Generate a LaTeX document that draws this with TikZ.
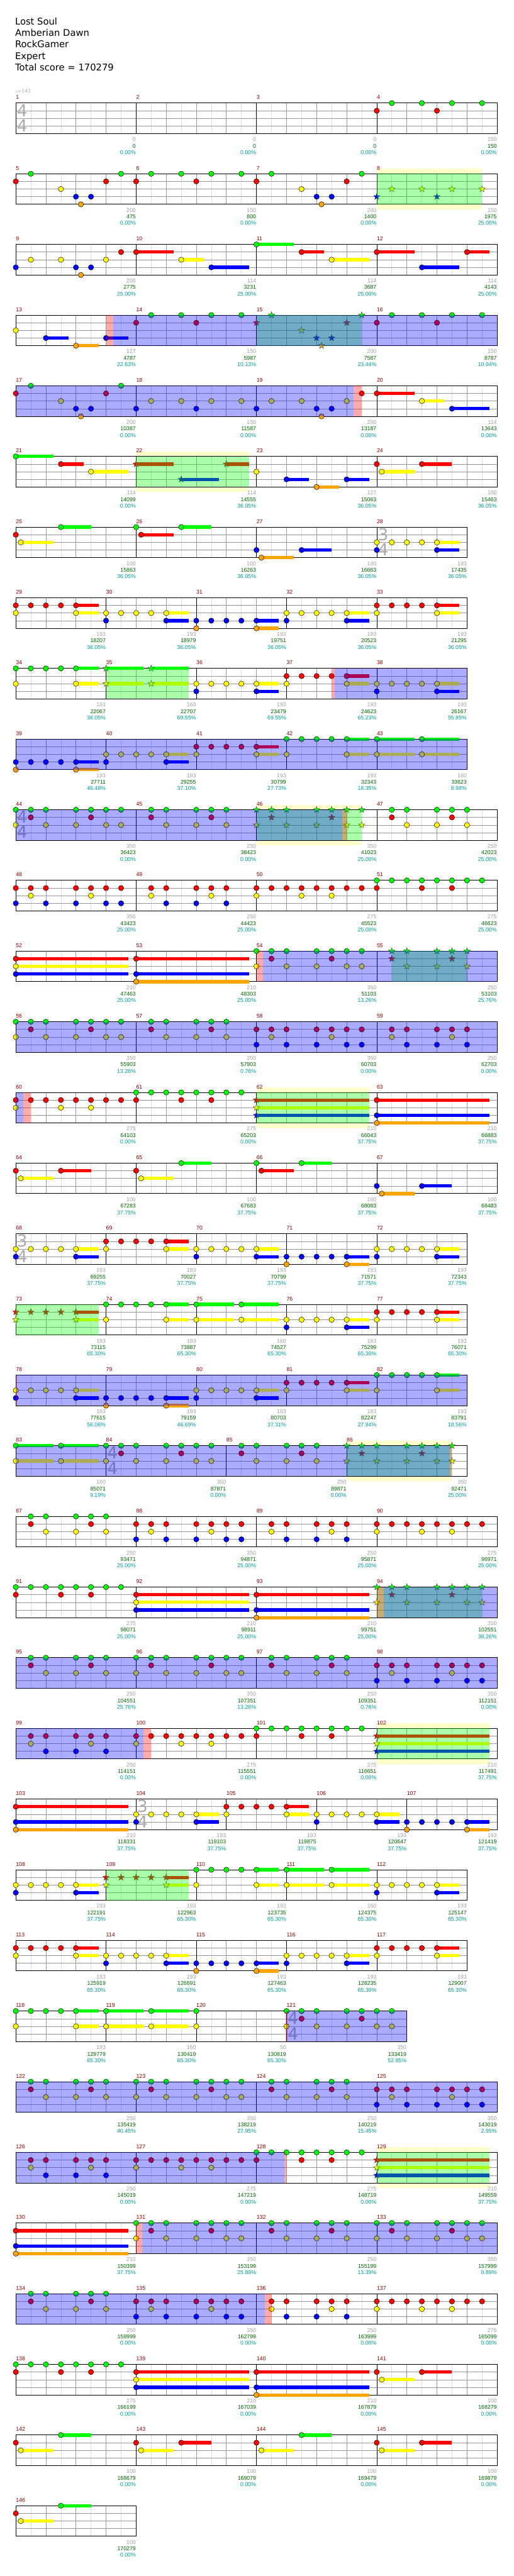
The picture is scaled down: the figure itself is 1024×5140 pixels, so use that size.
\documentclass[tikz,border=0pt]{standalone}
\usepackage{fontspec}
\setmainfont{DejaVu Sans}
\newfontfamily\smf{Liberation Sans}
\newfontfamily\hdf{DejaVu Sans}
\definecolor{c0}{HTML}{00FF00}
\definecolor{c1}{HTML}{FF0000}
\definecolor{c2}{HTML}{FFFF00}
\definecolor{c3}{HTML}{0000FF}
\definecolor{c4}{HTML}{FFA500}
\definecolor{yb}{HTML}{FFFFCC}
\definecolor{lgr}{HTML}{DDDDDD}
\definecolor{dgr}{HTML}{999999}
\definecolor{mnc}{HTML}{8B0000}
\definecolor{sgray}{HTML}{A0A0A0}
\definecolor{sgreen}{HTML}{006400}
\definecolor{steal}{HTML}{009999}
\definecolor{tsc}{HTML}{AAAAAA}
\tikzset{
  smalltext/.style={font=\smf\fontsize{11}{11}\selectfont, inner sep=0pt},
  hd/.style={font=\hdf\fontsize{18.5}{18.5}\selectfont, inner sep=0pt, anchor=base west},
  tsg/.style={font=\hdf\fontsize{33}{33}\selectfont, text=tsc, inner sep=0pt, anchor=center},
  lgrid/.style={draw=lgr, line width=0.8pt},
  dgrid/.style={draw=dgr, line width=0.8pt},
}
\newcount\nc
\newcommand\rowgo[1]{\begin{scope}[shift={(31.5,{-205.7-141*(#1-1)})}]}
\newcommand\staffrow[2]{%
  \fill[white] (0,0) rectangle ({30*#1},-61);
  \pgfmathtruncatemacro\wm{#1-1}%
  \foreach \i in {1,3,...,\wm} \draw[lgrid] ({30*\i},0) -- ({30*\i},-61);
  \foreach \i in {2,4,...,\wm} \draw[dgrid] ({30*\i},0) -- ({30*\i},-61);
  \foreach \j in {1,2,3} \draw[dgrid] (0,{-15.25*\j}) -- ({30*#1},{-15.25*\j});
  \foreach \m in {#2} \draw[black,line width=0.8pt] ({30*\m},0) -- ({30*\m},-61);
  \draw[black,line width=1.2pt] (0,0) rectangle ({30*#1},-61);
}
\newcommand\tsig[3]{\global\advance\nc by 1
  \node[tsg] (tsa\the\nc) at ({30*#1+12.8},-14.5) {#2};
  \node[tsg] (tsb\the\nc) at ({30*#1+12.8},-45) {#3};}
\newcommand\noteA[2]{\edef\tmpc{c#2}%
  \filldraw[fill=\tmpc,draw=black,line width=0.6pt] ({30*#1},{-15.25*#2}) circle (5.3);}
\newcommand\noteB[3]{\edef\tmpc{c#2}%
  \fill[\tmpc] ({30*#1},{-15.25*#2-3.3}) rectangle ({30*#3},{-15.25*#2+3.3});
  \noteA{#1}{#2}}
\newcommand\starA[2]{\edef\tmpc{c#2}%
  \filldraw[fill=\tmpc,draw=black!75,line width=0.5pt] ({30*#1},{-15.25*#2}) +(90:6.8) -- +(126:2.8) -- +(162:6.8) -- +(198:2.8) -- +(234:6.8) -- +(270:2.8) -- +(306:6.8) -- +(342:2.8) -- +(18:6.8) -- +(54:2.8) -- cycle;}
\newcommand\starB[3]{\edef\tmpc{c#2}%
  \fill[\tmpc] ({30*#1},{-15.25*#2-3.3}) rectangle ({30*#3},{-15.25*#2+3.3});
  \starA{#1}{#2}}
\newcommand\lnA[1]{\foreach \xa/\ya in {#1}{\noteA{\xa}{\ya}}}
\newcommand\lnB[1]{\foreach \xa/\ya/\za in {#1}{\noteB{\xa}{\ya}{\za}}}
\newcommand\lsA[1]{\foreach \xa/\ya in {#1}{\starA{\xa}{\ya}}}
\newcommand\lsB[1]{\foreach \xa/\ya/\za in {#1}{\starB{\xa}{\ya}{\za}}}
\newcommand\spz[2]{\fill[blue,opacity=0.33] ({30*#1},0) rectangle ({30*#2},-61);}
\newcommand\gpz[2]{\fill[green,opacity=0.33] ({30*#1},0) rectangle ({30*#2},-61);}
\newcommand\pkz[2]{\fill[red,opacity=0.33] ({30*#1},0) rectangle ({30*#2},-61);}
\newcommand\ybz[2]{\fill[yb] ({30*#1},10) rectangle ({30*#2},-71);}
\newcommand\lmn[1]{\foreach \xa/\ya in {#1}{\node[smalltext,text=mnc,anchor=base west] (m\ya) at ({30*\xa},7.5) {\ya};}}
\newcommand\scor[4]{\global\advance\nc by 1
  \node[smalltext,text=sgray,anchor=base east] (sa\the\nc) at ({30*#1-0.5},-76.5) {#2};
  \node[smalltext,text=sgreen,anchor=base east] (sb\the\nc) at ({30*#1-0.5},-89.5) {#3};
  \node[smalltext,text=steal,anchor=base east] (sc\the\nc) at ({30*#1-0.5},-102.5) {#4\%};}
\newcommand\lsc[1]{\foreach \xa/\ya/\za/\wa in {#1}{\scor{\xa}{\ya}{\za}{\wa}}}
\newcommand\patA{\lnA{1/0,1/1,2/0,2/2,4/0,4/2,5/0,5/1,6/0,6/2,8/0,8/2,9/0,9/1,10/0,10/2,12/0,12/2,13/0,13/1,14/0,14/2,15/0,15/2,17/0,17/1,18/0,18/2,20/0,20/2,21/0,21/1,22/0,22/2,24/1,24/3,25/1,25/2,26/1,26/3,28/1,28/3,29/1,29/2,30/1,30/3,31/1,31/3}}
\newcommand\patB{\lnA{1/1,1/2,2/1,2/3,4/1,4/3,5/1,5/2,6/1,6/3,8/1,8/2,9/1,10/1,11/1,11/2,12/1,13/1,13/2,14/1,15/1,16/0,16/1,17/0,18/0,19/0,19/1,20/0,21/0,21/1,22/0,23/0}}
\newcommand\patC{\lnA{1/0,1/1,2/0,2/2,4/0,4/2,5/0,5/1,6/0,6/2,8/1,8/3,9/1,9/2,10/1,10/3,12/1,12/3,13/1,13/2,14/1,14/3,15/1,15/3,17/1,17/2,18/1,18/3,20/1,20/3,21/1,21/2,22/1,22/3,24/1,24/2,25/1,26/1,27/1,27/2,28/1,29/1,29/2,30/1,31/1}}
\begin{document}
\begin{tikzpicture}[x=1pt,y=1pt]
\useasboundingbox (0,0) rectangle (1024,-5140);
\node[hd] (h1) at (30,-49.3) {Lost Soul};
\node[hd] (h2) at (30,-72.3) {Amberian Dawn};
\node[hd] (h3) at (30,-95.3) {RockGamer};
\node[hd] (h4) at (30,-118.3) {Expert};
\node[hd] (h5) at (30,-141.3) {Total score = 170279};
\node[anchor=base west,text=tsc,font=\hdf\fontsize{9.5}{9.5}\selectfont,inner sep=0pt] (tempo) at (30.5,-185) {♩=143};
% row 1
\rowgo{1}\staffrow{32}{8,16,24}\tsig{0}{4}{4}
\lnA{24/1,25/0,27/0,28/1,29/0,31/0}
\lmn{0/1,8/2,16/3,24/4}
\lsc{8/0/0/0.00,16/0/0/0.00,24/0/0/0.00,32/150/150/0.00}
\end{scope}
% row 2
\rowgo{2}\ybz{24}{31}\staffrow{32}{8,16,24}
\lnA{0/1,1/0,3/2,4/3,4.33/4,5/3,6/1,7/0,8/1,9/0,11/0,12/1,13/0,15/0,16/1,17/0,19/2,20/3,20.33/4,21/3,22/1,23/0}
\lsA{24/3,25/2,27/2,28/3,29/2,31/2}
\gpz{24}{31}
\lmn{0/5,8/6,16/7,24/8}
\lsc{8/200/475/0.00,16/150/800/0.00,24/200/1400/0.00,32/150/1975/25.00}
\end{scope}
% row 3
\rowgo{3}\staffrow{32}{8,16,24}
\lnA{0/3,1/2,3/2,4/3,4.33/4,5/3,6/2,7/1}
\lnB{8/1/10.5,11/2/12.5,13/3/15.5,16/0/18.5,19/1/20.5,21/2/23.5,24/1/26.5,27/3/29.5,30/1/31.5}
\lmn{0/9,8/10,16/11,24/12}
\lsc{8/200/2775/25.00,16/114/3231/25.00,24/114/3687/25.00,32/114/4143/25.00}
\end{scope}
% row 4
\rowgo{4}\staffrow{32}{8,16,24}
\lnA{0/2,8/1,9/0,11/0,12/1,13/0,15/0,24/1,25/0,27/0,28/1,29/0,31/0}
\lnB{2/3/3.5,4/4/5.5,6/3/7.5}
\lsA{16/1,17/0,19/2,20/3,20.33/4,21/3,22/1,23/0}
\gpz{16}{23}\pkz{6}{6.48}\spz{6.48}{32}
\lmn{0/13,8/14,16/15,24/16}
\lsc{8/127/4787/22.63,16/150/5987/10.13,24/200/7587/23.44,32/150/8787/10.94}
\end{scope}
% row 5
\rowgo{5}\staffrow{32}{8,16,24}
\lnA{0/1,1/0,3/2,4/3,4.33/4,5/3,6/1,7/0,8/3,9/2,11/2,12/3,13/2,15/2,16/3,17/2,19/2,20/3,20.33/4,21/3,22/2,23/1}
\lnB{24/1/26.5,27/2/28.5,29/3/31.5}
\spz{0}{22.46}\pkz{22.46}{23}
\lmn{0/17,8/18,16/19,24/20}
\lsc{8/200/10387/0.00,16/150/11587/0.00,24/200/13187/0.00,32/114/13643/0.00}
\end{scope}
% row 6
\rowgo{6}\ybz{8}{15.5}\staffrow{32}{8,16,24}
\lnA{16/2,24/1}
\lnB{0/0/2.5,3/1/4.5,5/2/7.5,18/3/19.5,20/4/21.5,22/3/23.5,24.33/2/26.5,27/1/29}
\lsB{8/1/10.5,11/3/13.5,14/1/15.5}
\gpz{8}{15.5}
\lmn{0/21,8/22,16/23,24/24}
\lsc{8/114/14099/0.00,16/114/14555/36.05,24/127/15063/36.05,32/100/15463/36.05}
\end{scope}
% row 7
\rowgo{7}\staffrow{30}{8,16,24}\tsig{24}{3}{4}
\lnA{0/1,8/0,16/3,24/2,24/3,25/2,26/2,27/2}
\lnB{0.33/2/2.5,3/0/5,8.33/1/10.5,11/0/13,16.33/4/18.5,19/3/21,28/2/29.5,28/3/29.5}
\lmn{0/25,8/26,16/27,24/28}
\lsc{8/100/15863/36.05,16/100/16263/36.05,24/100/16663/36.05,30/193/17435/36.05}
\end{scope}
% row 8
\rowgo{8}\staffrow{30}{6,12,18,24}
\lnA{0/1,0/2,1/1,2/1,3/1,6/2,6/3,7/2,8/2,9/2,12/3,12/4,13/3,14/3,15/3,18/2,18/3,19/2,20/2,21/2,24/1,24/2,25/1,26/1,27/1}
\lnB{4/1/5.5,4/2/5.5,10/2/11.5,10/3/11.5,16/3/17.5,16/4/17.5,22/2/23.5,22/3/23.5,28/1/29.5,28/2/29.5}
\lmn{0/29,6/30,12/31,18/32,24/33}
\lsc{6/193/18207/36.05,12/193/18979/36.05,18/193/19751/36.05,24/193/20523/36.05,30/193/21295/36.05}
\end{scope}
% row 9
\rowgo{9}\staffrow{30}{6,12,18,24}
\lnA{0/0,0/2,1/0,2/0,3/0,12/2,12/3,13/2,14/2,15/2,18/1,18/2,19/1,20/1,21/1,24/2,24/3,25/2,26/2,27/2}
\lnB{4/0/5.5,4/2/5.5,16/2/17.5,16/3/17.5,22/1/23.5,22/2/23.5,28/2/29.5,28/3/29.5}
\lsB{6/0/8.5,6/2/8.5,9/0/11.5,9/2/11.5}
\gpz{6}{11.5}\pkz{21}{21.2}\spz{21.2}{30}
\lmn{0/34,6/35,12/36,18/37,24/38}
\lsc{6/193/22067/36.05,12/160/22707/69.55,18/193/23479/69.55,24/193/24623/65.23,30/193/26167/55.85}
\end{scope}
% row 10
\rowgo{10}\staffrow{30}{6,12,18,24}
\lnA{0/3,0/4,1/3,2/3,3/3,6/2,6/3,7/2,8/2,9/2,12/1,12/2,13/1,14/1,15/1,18/0,18/2,19/0,20/0,21/0}
\lnB{4/3/5.5,4/4/5.5,10/2/11.5,10/3/11.5,16/1/17.5,16/2/17.5,22/0/23.5,22/2/23.5,24/0/26.5,24/2/26.5,27/0/29.5,27/2/29.5}
\spz{0}{30}
\lmn{0/39,6/40,12/41,18/42,24/43}
\lsc{6/193/27711/46.48,12/193/29255/37.10,18/193/30799/27.73,24/193/32343/18.35,30/160/33623/8.98}
\end{scope}
% row 11
\rowgo{11}\ybz{16}{23}\staffrow{32}{8,16,24}\tsig{0}{4}{4}
\lnA{0/0,0/2,1/0,1/1,2/0,2/2,4/0,4/2,5/0,5/1,6/0,6/2,7/0,7/2,9/0,9/1,10/0,10/2,12/0,12/2,13/0,13/1,14/0,14/2,25/0,25/1,26/0,26/2,28/0,28/2,29/0,29/1,30/0,30/2}
\lsA{16/0,16/2,17/0,17/1,18/0,18/2,20/0,20/2,21/0,21/1,22/0,22/2,23/0,23/2}
\gpz{16}{23}\spz{0}{21.7}\pkz{21.7}{22}
\lmn{0/44,8/45,16/46,24/47}
\lsc{8/350/36423/0.00,16/250/38423/0.00,24/350/41023/25.00,32/250/42023/25.00}
\end{scope}
% row 12
\rowgo{12}\staffrow{32}{8,16,24}
\lnA{0/1,0/3,1/1,1/2,2/1,2/3,4/1,4/3,5/1,5/2,6/1,6/3,7/1,7/3,9/1,9/2,10/1,10/3,12/1,12/3,13/1,13/2,14/1,14/3,16/1,16/2,17/1,18/1,19/1,19/2,20/1,21/1,21/2,22/1,23/1,24/0,24/1,25/0,26/0,27/0,27/1,28/0,29/0,29/1,30/0,31/0}
\lmn{0/48,8/49,16/50,24/51}
\lsc{8/350/43423/25.00,16/250/44423/25.00,24/275/45523/25.00,32/275/46623/25.00}
\end{scope}
% row 13
\rowgo{13}\staffrow{32}{8,16,24}
\lnB{0/1/7.5,0/2/7.5,0/3/7.5,8/1/15.5,8/3/15.5,8/4/15.5}
\lnA{16/0,16/2,17/0,17/1,18/0,18/2,20/0,20/2,21/0,21/1,22/0,22/2,23/0,23/2}
\lsA{25/0,25/1,26/0,26/2,28/0,28/2,29/0,29/1,30/0,30/2}
\gpz{25}{30}\pkz{16}{16.43}\spz{16.43}{32}
\lmn{0/52,8/53,16/54,24/55}
\lsc{8/210/47463/25.00,16/210/48303/25.00,24/350/51103/13.26,32/250/53103/25.76}
\end{scope}
% row 14
\rowgo{14}\staffrow{32}{8,16,24}
\lnA{0/0,0/2,1/0,1/1,2/0,2/2,4/0,4/2,5/0,5/1,6/0,6/2,7/0,7/2,9/0,9/1,10/0,10/2,12/0,12/2,13/0,13/1,14/0,14/2,16/1,16/3,17/1,17/2,18/1,18/3,20/1,20/3,21/1,21/2,22/1,22/3,23/1,23/3,25/1,25/2,26/1,26/3,28/1,28/3,29/1,29/2,30/1,30/3}
\spz{0}{32}
\lmn{0/56,8/57,16/58,24/59}
\lsc{8/350/55903/13.26,16/250/57903/0.76,24/350/60703/0.00,32/250/62703/0.00}
\end{scope}
% row 15
\rowgo{15}\ybz{16}{23.5}\staffrow{32}{8,16,24}
\lnA{0/1,0/2,1/1,2/1,3/1,3/2,4/1,5/1,5/2,6/1,7/1,8/0,8/1,9/0,10/0,11/0,11/1,12/0,13/0,13/1,14/0,15/0}
\lsB{16/1/23.5,16/2/23.5,16/3/23.5}
\lnB{24/1/31.5,24/3/31.5,24/4/31.5}
\gpz{16}{23.5}\spz{0}{0.5}\pkz{0.5}{1}
\lmn{0/60,8/61,16/62,24/63}
\lsc{8/275/64103/0.00,16/275/65203/0.00,24/210/66043/37.75,32/210/66883/37.75}
\end{scope}
% row 16
\rowgo{16}\staffrow{32}{8,16,24}
\lnA{0/1,8/1,16/0,24/3}
\lnB{0.33/2/2.5,3/1/5,8.33/2/10.5,11/0/13,16.33/1/18.5,19/0/21,24.33/4/26.5,27/3/29}
\lmn{0/64,8/65,16/66,24/67}
\lsc{8/100/67283/37.75,16/100/67683/37.75,24/100/68083/37.75,32/100/68483/37.75}
\end{scope}
% row 17
\rowgo{17}\staffrow{30}{6,12,18,24}\tsig{0}{3}{4}
\lnA{0/2,0/3,1/2,2/2,3/2,6/1,6/2,7/1,8/1,9/1,12/2,12/3,13/2,14/2,15/2,18/3,18/4,19/3,20/3,21/3,24/2,24/3,25/2,26/2,27/2}
\lnB{4/2/5.5,4/3/5.5,10/1/11.5,10/2/11.5,16/2/17.5,16/3/17.5,22/3/23.5,22/4/23.5,28/2/29.5,28/3/29.5}
\lmn{0/68,6/69,12/70,18/71,24/72}
\lsc{6/193/69255/37.75,12/193/70027/37.75,18/193/70799/37.75,24/193/71571/37.75,30/193/72343/37.75}
\end{scope}
% row 18
\rowgo{18}\staffrow{30}{6,12,18,24}
\lsA{0/1,0/2,1/1,2/1,3/1}
\lsB{4/1/5.5,4/2/5.5}
\lnA{6/0,6/2,7/0,8/0,9/0,18/2,18/3,19/2,20/2,21/2,24/1,24/2,25/1,26/1,27/1}
\lnB{10/0/11.5,10/2/11.5,12/0/14.5,12/2/14.5,15/0/17.5,15/2/17.5,22/2/23.5,22/3/23.5,28/1/29.5,28/2/29.5}
\gpz{0}{5.5}
\lmn{0/73,6/74,12/75,18/76,24/77}
\lsc{6/193/73115/65.30,12/193/73887/65.30,18/160/74527/65.30,24/193/75299/65.30,30/193/76071/65.30}
\end{scope}
% row 19
\rowgo{19}\staffrow{30}{6,12,18,24}
\lnA{0/2,0/3,1/2,2/2,3/2,6/3,6/4,7/3,8/3,9/3,12/2,12/3,13/2,14/2,15/2,18/1,18/2,19/1,20/1,21/1,24/0,24/2,25/0,26/0,27/0}
\lnB{4/2/5.5,4/3/5.5,10/3/11.5,10/4/11.5,16/2/17.5,16/3/17.5,22/1/23.5,22/2/23.5,28/0/29.5,28/2/29.5}
\spz{0}{30}\pkz{0}{0.1}
\lmn{0/78,6/79,12/80,18/81,24/82}
\lsc{6/193/77615/56.06,12/193/79159/46.69,18/193/80703/37.31,24/193/82247/27.94,30/193/83791/18.56}
\end{scope}
% row 20
\rowgo{20}\ybz{22}{29}\staffrow{30}{6,14,22}\tsig{6}{4}{4}
\lnB{0/0/2.5,0/2/2.5,3/0/5.5,3/2/5.5}
\lnA{6/0,6/2,7/0,7/1,8/0,8/2,10/0,10/2,11/0,11/1,12/0,12/2,13/0,13/2,15/0,15/1,16/0,16/2,18/0,18/2,19/0,19/1,20/0,20/2}
\lsA{22/0,22/2,23/0,23/1,24/0,24/2,26/0,26/2,27/0,27/1,28/0,28/2,29/0,29/2}
\gpz{22}{29}\spz{0}{28.85}\pkz{28.85}{29}
\lmn{0/83,6/84,14/85,22/86}
\lsc{6/160/85071/9.19,14/350/87871/0.00,22/250/89871/0.00,30/350/92471/25.00}
\end{scope}
% row 21
\rowgo{21}\staffrow{32}{8,16,24}
\patC
\lmn{0/87,8/88,16/89,24/90}
\lsc{8/250/93471/25.00,16/350/94871/25.00,24/250/95871/25.00,32/275/96971/25.00}
\end{scope}
% row 22
\rowgo{22}\staffrow{32}{8,16,24}
\lnA{0/0,0/1,1/0,2/0,3/0,3/1,4/0,5/0,5/1,6/0,7/0}
\lnB{8/1/15.5,8/2/15.5,8/3/15.5,16/1/23.5,16/3/23.5,16/4/23.5}
\lsA{24/0,24/2,25/0,25/1,26/0,26/2,28/0,28/2,29/0,29/1,30/0,30/2,31/0,31/2}
\gpz{24}{31}\pkz{24}{24.45}\spz{24.45}{32}
\lmn{0/91,8/92,16/93,24/94}
\lsc{8/275/98071/25.00,16/210/98911/25.00,24/210/99751/25.00,32/350/102551/38.26}
\end{scope}
% row 23
\rowgo{23}\staffrow{32}{8,16,24}
\patA\spz{0}{32}
\lmn{0/95,8/96,16/97,24/98}
\lsc{8/250/104551/25.76,16/350/107351/13.26,24/250/109351/0.76,32/350/112151/0.00}
\end{scope}
% row 24
\rowgo{24}\ybz{24}{31.5}\staffrow{32}{8,16,24}
\patB
\lsB{24/1/31.5,24/2/31.5,24/3/31.5}
\gpz{24}{31.5}\spz{0}{8.5}\pkz{8.5}{9}
\lmn{0/99,8/100,16/101,24/102}
\lsc{8/250/114151/0.00,16/275/115551/0.00,24/275/116651/0.00,32/210/117491/37.75}
\end{scope}
% row 25
\rowgo{25}\staffrow{32}{8,14,20,26}\tsig{8}{3}{4}
\lnB{0/1/7.5,0/3/7.5,0/4/7.5,12/2/13.5,12/3/13.5,18/1/19.5,18/2/19.5,24/2/25.5,24/3/25.5,30/3/31.5,30/4/31.5}
\lnA{8/2,8/3,9/2,10/2,11/2,14/1,14/2,15/1,16/1,17/1,20/2,20/3,21/2,22/2,23/2,26/3,26/4,27/3,28/3,29/3}
\lmn{0/103,8/104,14/105,20/106,26/107}
\lsc{8/210/118331/37.75,14/193/119103/37.75,20/193/119875/37.75,26/193/120647/37.75,32/193/121419/37.75}
\end{scope}
% row 26
\rowgo{26}\staffrow{30}{6,12,18,24}
\lnA{0/2,0/3,1/2,2/2,3/2,12/0,12/2,13/0,14/0,15/0,24/2,24/3,25/2,26/2,27/2}
\lnB{4/2/5.5,4/3/5.5,16/0/17.5,16/2/17.5,18/0/20.5,18/2/20.5,21/0/23.5,21/2/23.5,28/2/29.5,28/3/29.5}
\lsA{6/1,6/2,7/1,8/1,9/1}
\lsB{10/1/11.5,10/2/11.5}
\gpz{6}{11.5}
\lmn{0/108,6/109,12/110,18/111,24/112}
\lsc{6/193/122191/37.75,12/193/122963/65.30,18/193/123735/65.30,24/160/124375/65.30,30/193/125147/65.30}
\end{scope}
% row 27
\rowgo{27}\staffrow{30}{6,12,18,24}
\lnA{0/1,0/2,1/1,2/1,3/1,6/2,6/3,7/2,8/2,9/2,12/3,12/4,13/3,14/3,15/3,18/2,18/3,19/2,20/2,21/2,24/1,24/2,25/1,26/1,27/1}
\lnB{4/1/5.5,4/2/5.5,10/2/11.5,10/3/11.5,16/3/17.5,16/4/17.5,22/2/23.5,22/3/23.5,28/1/29.5,28/2/29.5}
\lmn{0/113,6/114,12/115,18/116,24/117}
\lsc{6/193/125919/65.30,12/193/126691/65.30,18/193/127463/65.30,24/193/128235/65.30,30/193/129007/65.30}
\end{scope}
% row 28
\rowgo{28}\staffrow{26}{6,12,18}\tsig{18}{4}{4}
\lnA{0/0,0/2,1/0,2/0,3/0,12/0,12/2,18/0,18/2,19/0,19/1,20/0,20/2,22/0,22/2,23/0,23/1,24/0,24/2,25/0,25/2}
\lnB{4/0/5.5,4/2/5.5,6/0/8.5,6/2/8.5,9/0/11.5,9/2/11.5}
\spz{18}{26}\pkz{17.95}{18.05}
\lmn{0/118,6/119,12/120,18/121}
\lsc{6/193/129779/65.30,12/160/130419/65.30,18/50/130819/65.30,26/350/133419/52.95}
\end{scope}
% row 29
\rowgo{29}\staffrow{32}{8,16,24}
\patA\spz{0}{32}
\lmn{0/122,8/123,16/124,24/125}
\lsc{8/250/135419/40.45,16/350/138219/27.95,24/250/140219/15.45,32/350/143019/2.95}
\end{scope}
% row 30
\rowgo{30}\ybz{24}{31.5}\staffrow{32}{8,16,24}
\patB
\lsB{24/1/31.5,24/2/31.5,24/3/31.5}
\gpz{24}{31.5}\spz{0}{17.85}\pkz{17.85}{18}
\lmn{0/126,8/127,16/128,24/129}
\lsc{8/250/145019/0.00,16/275/147219/0.00,24/275/148719/0.00,32/210/149559/37.75}
\end{scope}
% row 31
\rowgo{31}\staffrow{32}{8,16,24}
\lnB{0/1/7.5,0/3/7.5,0/4/7.5}
\lnA{8/0,8/2,9/0,9/1,10/0,10/2,12/0,12/2,13/0,13/1,14/0,14/2,15/0,15/2,17/0,17/1,18/0,18/2,20/0,20/2,21/0,21/1,22/0,22/2,24/0,24/2,25/0,25/1,26/0,26/2,28/0,28/2,29/0,29/1,30/0,30/2,31/0,31/2}
\pkz{8}{8.4}\spz{8.4}{32}
\lmn{0/130,8/131,16/132,24/133}
\lsc{8/210/150399/37.75,16/350/153199/25.89,24/250/155199/13.39,32/350/157999/0.89}
\end{scope}
% row 32
\rowgo{32}\staffrow{32}{8,16,24}
\patC\spz{0}{16.54}\pkz{16.54}{17}
\lmn{0/134,8/135,16/136,24/137}
\lsc{8/250/159999/0.00,16/350/162799/0.00,24/250/163999/0.00,32/275/165099/0.00}
\end{scope}
% row 33
\rowgo{33}\staffrow{32}{8,16,24}
\lnA{0/0,0/1,1/0,2/0,3/0,3/1,4/0,5/0,5/1,6/0,7/0,24/1}
\lnB{8/1/15.5,8/2/15.5,8/3/15.5,16/1/23.5,16/3/23.5,16/4/23.5,24.33/2/26.5,27/1/29}
\lmn{0/138,8/139,16/140,24/141}
\lsc{8/275/166199/0.00,16/210/167039/0.00,24/210/167879/0.00,32/100/168279/0.00}
\end{scope}
% row 34
\rowgo{34}\staffrow{32}{8,16,24}
\lnA{0/1,8/1,16/1,24/1}
\lnB{0.33/2/2.5,3/0/5,8.33/2/10.5,11/1/13,16.33/2/18.5,19/0/21,24.33/2/26.5,27/1/29}
\lmn{0/142,8/143,16/144,24/145}
\lsc{8/100/168679/0.00,16/100/169079/0.00,24/100/169479/0.00,32/100/169879/0.00}
\end{scope}
% row 35
\rowgo{35}\staffrow{8}{0}
\lnA{0/1}
\lnB{0.33/2/2.5,3/0/5}
\lmn{0/146}
\lsc{8/100/170279/0.00}
\end{scope}
\end{tikzpicture}
\end{document}
